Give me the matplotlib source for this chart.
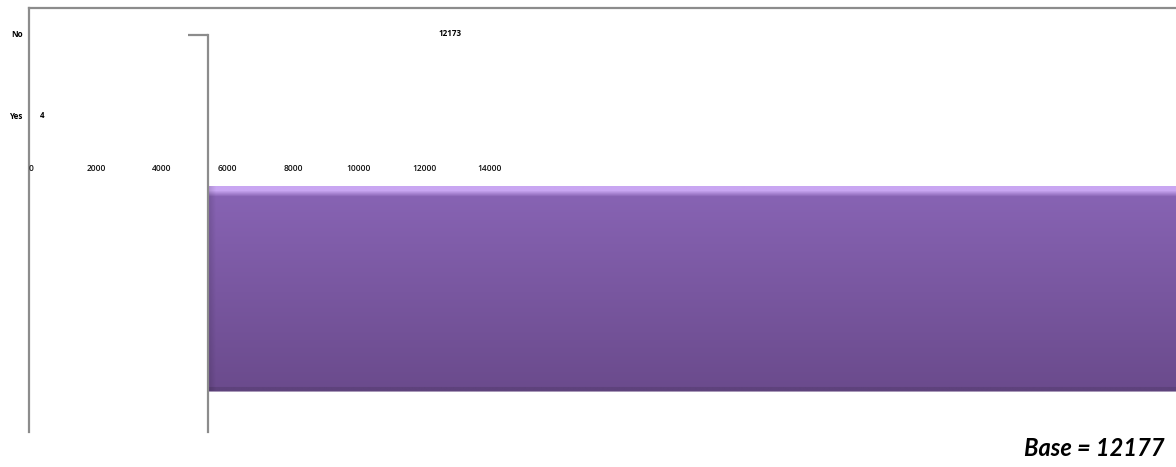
"""Horizontal bar chart of Yes/No answer counts, drawn in the old broken-export layout."""

import matplotlib

matplotlib.use("Agg")
import matplotlib.pyplot as plt
import numpy as np
from matplotlib.colors import to_rgb

categories = ["Yes", "No"]
counts = [4, 12173]
x_ticks = [0, 2000, 4000, 6000, 8000, 10000, 12000, 14000]
base = 12177

W, H = 1176, 467
GRAY = "#8c8c8c"
LABEL = dict(family="Open Sans", fontsize=5.8, fontweight="bold", color="black")
TICK = dict(family="Open Sans", fontsize=6, fontweight="semibold", color="#111111")


def px_box(left, top, right, bottom):
    """Figure-fraction rect from pixel edges measured from the top-left corner."""
    return [left / W, 1 - bottom / H, (right - left) / W, (bottom - top) / H]


def bar_gradient(rows=206, cols=1000):
    # vertical profile: light rim on top, body darkening downward, dark lip at bottom
    top_rim = np.array(to_rgb("#c3b5d6"))
    shine = np.array(to_rgb("#c9a6f2"))
    body_top = np.array(to_rgb("#8763b3"))
    body_bot = np.array(to_rgb("#6b4b8d"))
    lip = np.array(to_rgb("#5e427c"))
    bottom_rim = np.array(to_rgb("#a898b8"))
    profile = np.zeros((rows, 3))
    for r in range(rows):
        if r == 0:
            c = top_rim
        elif r < 5:
            c = shine
        elif r < 11:
            t = (r - 5) / 6
            c = shine * (1 - t) + body_top * t
        elif r < rows - 5:
            t = (r - 11) / (rows - 16)
            c = body_top * (1 - t) + body_bot * t
        elif r < rows - 1:
            c = lip
        else:
            c = bottom_rim
        profile[r] = c
    img = np.repeat(profile[:, None, :], cols, axis=1)
    # darker bevel down the left edge
    for col in range(7):
        shade = 0.86 + 0.02 * col
        img[1:rows - 1, col] *= shade
    return img


fig = plt.figure(figsize=(W / 100, H / 100), dpi=100)

# outer plot frame: left and top borders only
frame = fig.add_axes(px_box(28.5, 8, W + 2, 432))
frame.set_xticks([])
frame.set_yticks([])
for side in ("right", "bottom"):
    frame.spines[side].set_visible(False)
for side in ("left", "top"):
    frame.spines[side].set_color(GRAY)
    frame.spines[side].set_linewidth(1.6)
frame.patch.set_alpha(0)

# value axis, category labels and data labels
ax = fig.add_axes(px_box(31, 8, 31 + 65.5 * 7, 163))
ax.set_xlim(0, 14000)
ax.set_ylim(-0.585, 1.305)
ax.set_xticks(x_ticks)
ax.set_xticklabels([str(t) for t in x_ticks], **TICK)
ax.set_yticks(range(len(categories)))
ax.set_yticklabels(categories, **LABEL)
ax.tick_params(axis="x", length=0, pad=1)
ax.tick_params(axis="y", length=0, pad=6)
for spine in ax.spines.values():
    spine.set_visible(False)
ax.patch.set_alpha(0)
for i, value in enumerate(counts):
    ax.annotate(str(value), (value, i), xytext=(6.5, 0), textcoords="offset points",
                ha="left", va="center", **LABEL)

# the bar itself, in its own axes starting at the second spine
bar_ax = fig.add_axes(px_box(208, 35, W + 2, 432))
bar_ax.set_xticks([])
bar_ax.set_yticks([1])
bar_ax.set_yticklabels([""])
bar_ax.tick_params(axis="y", length=14.5, width=1.6, color=GRAY, direction="out")
for side in ("right", "top", "bottom"):
    bar_ax.spines[side].set_visible(False)
bar_ax.spines["left"].set_color(GRAY)
bar_ax.spines["left"].set_linewidth(1.6)
bar_ax.patch.set_alpha(0)

bar_y, bar_h = 0.360, 0.519
bars = bar_ax.barh([bar_y], [counts[1]], height=bar_h, color="none", edgecolor="none")
img = bar_ax.imshow(bar_gradient(), extent=(0, counts[1], bar_y - bar_h / 2, bar_y + bar_h / 2),
                    aspect="auto", interpolation="bilinear", zorder=2)
img.set_clip_path(bars[0])
bar_ax.set_xlim(0, 11000)
bar_ax.set_ylim(0, 1)

fig.text(1165 / W, 1 - 448 / H, f"Base = {base}", ha="right", va="center",
         family="Lato", fontsize=17, fontweight="bold", fontstyle="italic")

fig.savefig("out.png", dpi=100)
